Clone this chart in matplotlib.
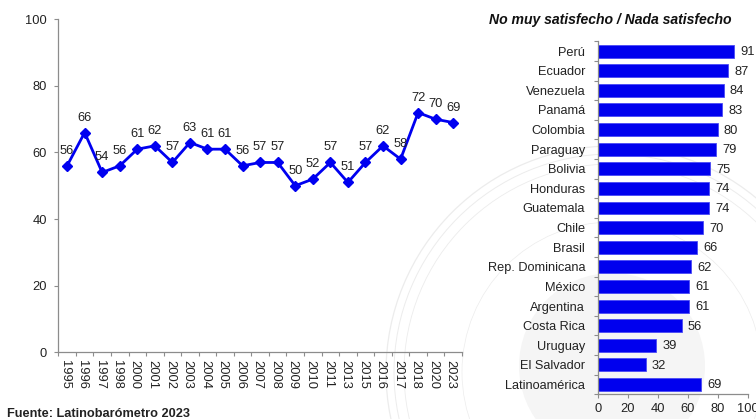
import matplotlib
matplotlib.use("Agg")
import matplotlib.pyplot as plt
from matplotlib.patches import Circle
from matplotlib.transforms import ScaledTranslation

plt.rcParams['font.family'] = ['Liberation Sans', 'DejaVu Sans']

years = ['1995','1996','1997','1998','2000','2001','2002','2003','2004','2005','2006','2007',
         '2008','2009','2010','2011','2013','2015','2016','2017','2018','2020','2023']
line_values = [56,66,54,56,61,62,57,63,61,61,56,57,57,50,52,57,51,57,62,58,72,70,69]
countries = ['Perú','Ecuador','Venezuela','Panamá','Colombia','Paraguay','Bolivia','Honduras',
             'Guatemala','Chile','Brasil','Rep. Dominicana','México','Argentina','Costa Rica',
             'Uruguay','El Salvador','Latinoamérica']
bar_values = [91,87,84,83,80,79,75,74,74,70,66,62,61,61,56,39,32,69]
bar_title = 'No muy satisfecho / Nada satisfecho'
source = 'Fuente: Latinobarómetro 2023'

W, H = 756, 419
BLUE = '#0000F0'
TXT = '#222222'
AXC = '#8c8c8c'
FS = 9.3

fig = plt.figure(figsize=(W/100, H/100), dpi=100, facecolor='white')

def rect(l, t, r, b):
    return [l/W, 1-b/H, (r-l)/W, (b-t)/H]

# faint watermark seal
bg = fig.add_axes([0, 0, 1, 1], zorder=0)
bg.set_xlim(0, W); bg.set_ylim(H, 0); bg.axis('off')
for rad, lw in [(226, 0.9), (218, 0.7), (208, 0.6), (150, 0.5)]:
    bg.add_patch(Circle((612, 372), rad, fill=False, ec='#ececec', lw=lw))
bg.add_patch(Circle((612, 366), 93, fc='#f5f5f5', ec='none'))

# line chart
ax = fig.add_axes(rect(58.3, 19.5, 462, 352), zorder=1)
ax.patch.set_alpha(0)
x = list(range(len(years)))
ax.plot(x, line_values, color=BLUE, lw=2.0, marker='D', ms=4.6, clip_on=False)
ax.set_xlim(-0.5, len(years)-0.5)
ax.set_ylim(0, 100)
ax.set_yticks(range(0, 101, 20))
ax.set_xticks([i-0.5 for i in range(len(years)+1)], minor=False)
ax.set_xticklabels([])
ax.set_xticks(x, labels=years, minor=True)
ax.tick_params(axis='x', which='minor', length=0, rotation=-90, labelsize=FS, labelcolor=TXT, pad=6)
ax.tick_params(axis='x', which='major', length=3.2, width=0.8, color=AXC)
ax.tick_params(axis='y', length=3.2, width=0.8, color=AXC, labelsize=FS, labelcolor=TXT, pad=5)
shift = ScaledTranslation(-2.5/100, 0, fig.dpi_scale_trans)
for lab in ax.get_xticklabels(minor=True):
    lab.set_transform(lab.get_transform() + shift)
for s in ['top', 'right']:
    ax.spines[s].set_visible(False)
for s in ['left', 'bottom']:
    ax.spines[s].set_color(AXC); ax.spines[s].set_linewidth(0.9)
for xi, v in zip(x, line_values):
    ax.annotate(str(v), (xi, v), xytext=(0, 9), textcoords='offset pixels',
                ha='center', va='bottom', fontsize=FS, color=TXT)

# bar chart
ax2 = fig.add_axes(rect(597.7, 41.3, 748, 394.3), zorder=1)
ax2.patch.set_alpha(0)
y = list(range(len(countries)))
ax2.barh(y, bar_values, height=0.66, color='#0000EE', edgecolor='#4a4af5', lw=0.6)
ax2.set_xlim(0, 100)
ax2.set_ylim(len(countries)-0.5, -0.5)
ax2.set_yticks([i-0.5 for i in range(len(countries)+1)])
ax2.set_yticklabels([])
ax2.set_yticks(y, labels=countries, minor=True)
ax2.tick_params(axis='y', which='minor', length=0, labelsize=FS-0.1, labelcolor=TXT, pad=9)
ax2.tick_params(axis='y', which='major', length=3.2, width=0.8, color=AXC)
ax2.set_xticks(range(0, 101, 20))
ax2.tick_params(axis='x', length=3.2, width=0.8, color=AXC, labelsize=FS, labelcolor=TXT, pad=3)
for s in ['top', 'right']:
    ax2.spines[s].set_visible(False)
for s in ['left', 'bottom']:
    ax2.spines[s].set_color(AXC); ax2.spines[s].set_linewidth(0.9)
for yi, v in zip(y, bar_values):
    ax2.annotate(str(v), (v, yi), xytext=(6, -1), textcoords='offset pixels', ha='left', va='center',
                 fontsize=FS, color=TXT, annotation_clip=False)

fig.text(489/W, 1-20/H, bar_title, fontsize=10.1, fontweight='bold', fontstyle='italic', color='#111111', ha='left', va='center')
fig.text(7/W, 1-413.5/H, source, fontsize=9.2, fontweight='bold', color='#222222', ha='left', va='center')

fig.savefig('out.png', dpi=100, facecolor='white')
